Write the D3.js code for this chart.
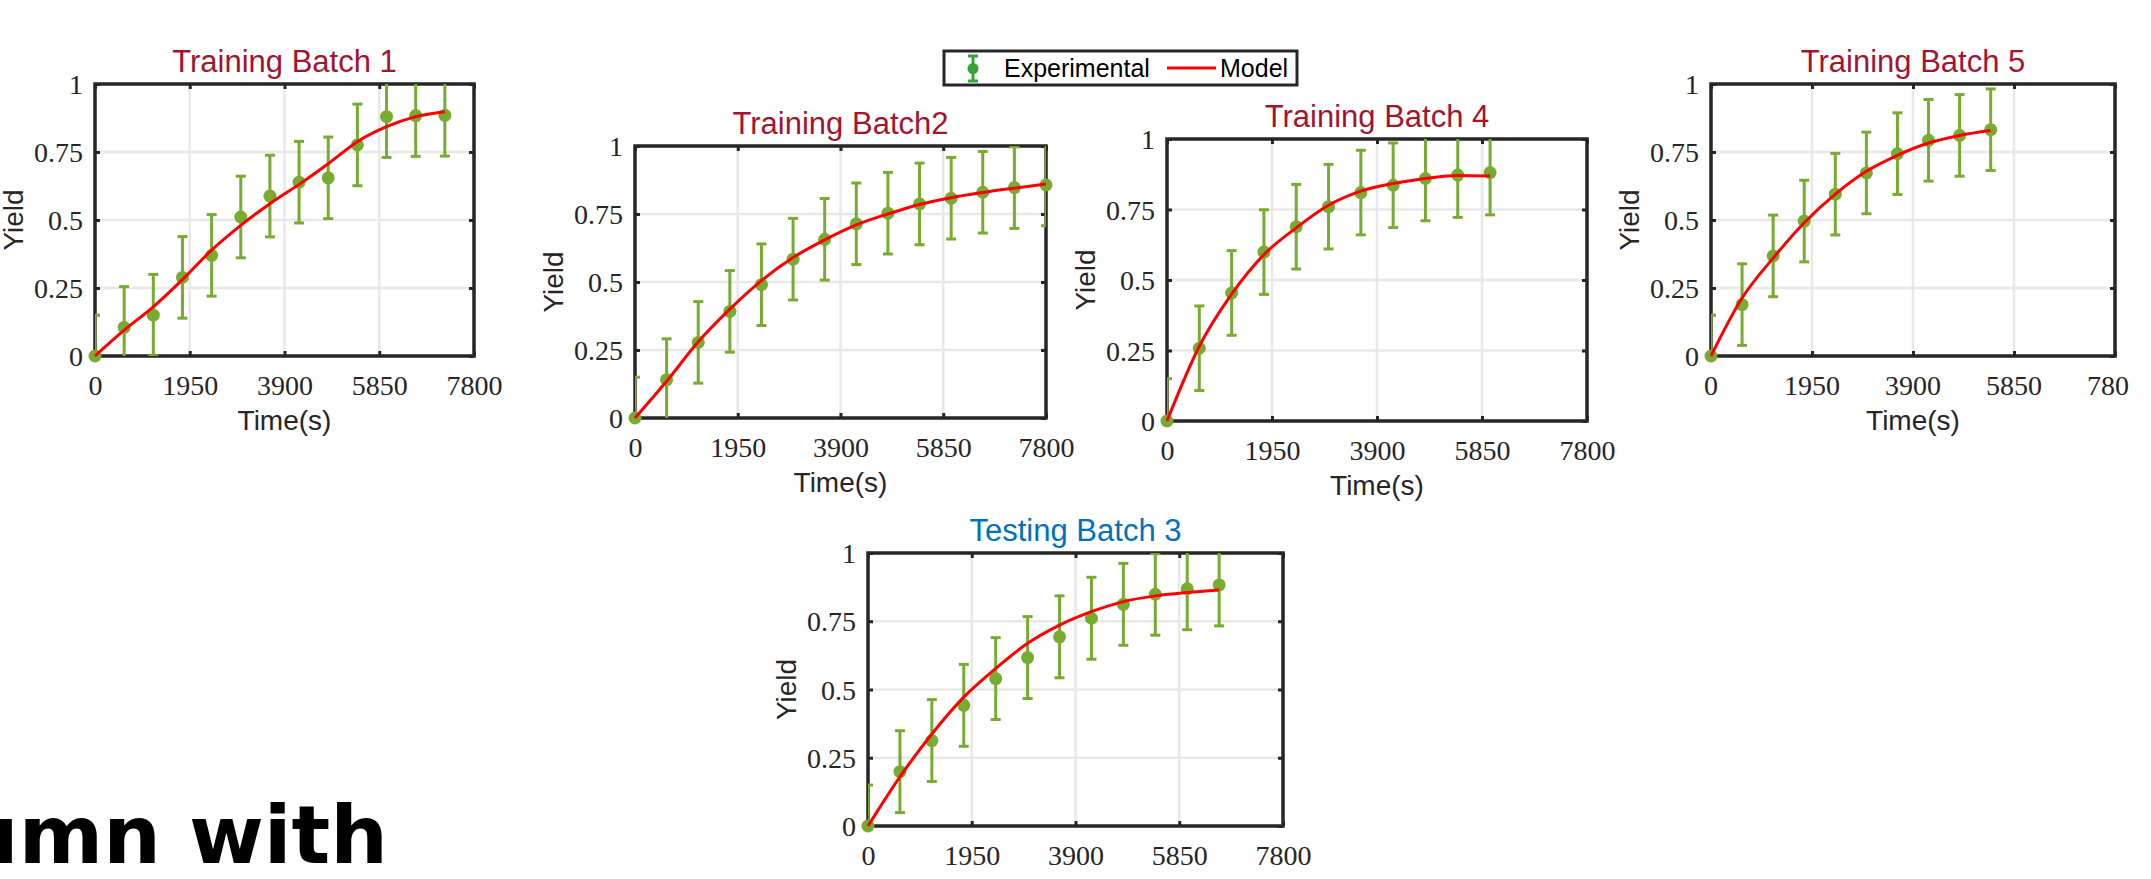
<!DOCTYPE html>
<html>
<head>
<meta charset="utf-8">
<script src="https://cdn.jsdelivr.net/npm/d3@7/dist/d3.min.js"></script>
<style>
  body { margin: 0; background: #fff; overflow: hidden; }
  svg { display: block; }
</style>
</head>
<body>
<div id="my_dataviz"></div>
<script>
var tickTimes = [0, 1950, 3900, 5850, 7800];
var tickYields = [0, 0.25, 0.5, 0.75, 1];
var expError = 0.15;

var batch1Time = [0, 600, 1200, 1800, 2400, 3000, 3600, 4200, 4800, 5400, 6000, 6600, 7200];
var batch1Exp = [0, 0.105, 0.15, 0.289, 0.37, 0.511, 0.588, 0.639, 0.655, 0.776, 0.88, 0.884, 0.885];
var batch1Model = [0, 0.095, 0.181, 0.281, 0.389, 0.48, 0.56, 0.631, 0.707, 0.788, 0.843, 0.88, 0.898];

var batch2Time = [0, 600, 1200, 1800, 2400, 3000, 3600, 4200, 4800, 5400, 6000, 6600, 7200, 7800];
var batch2Exp = [0, 0.141, 0.278, 0.392, 0.49, 0.584, 0.657, 0.714, 0.753, 0.787, 0.808, 0.83, 0.847, 0.857];
var batch2Model = [0, 0.135, 0.28, 0.4, 0.505, 0.59, 0.655, 0.71, 0.75, 0.785, 0.81, 0.829, 0.845, 0.86];

var batch4Time = [0, 600, 1200, 1800, 2400, 3000, 3600, 4200, 4800, 5400, 6000];
var batch4Exp = [0, 0.258, 0.454, 0.599, 0.689, 0.76, 0.81, 0.836, 0.86, 0.872, 0.881];
var batch4Model = [0, 0.265, 0.45, 0.59, 0.685, 0.765, 0.815, 0.842, 0.86, 0.871, 0.869];

var batch5Time = [0, 600, 1200, 1800, 2400, 3000, 3600, 4200, 4800, 5400];
var batch5Exp = [0, 0.189, 0.368, 0.496, 0.595, 0.673, 0.744, 0.793, 0.811, 0.832];
var batch5Model = [0, 0.213, 0.36, 0.49, 0.595, 0.679, 0.738, 0.783, 0.811, 0.829];

var batch3Time = [0, 600, 1200, 1800, 2400, 3000, 3600, 4200, 4800, 5400, 6000, 6600];
var batch3Exp = [0, 0.199, 0.313, 0.442, 0.54, 0.617, 0.693, 0.761, 0.812, 0.849, 0.869, 0.883];
var batch3Model = [0, 0.18, 0.337, 0.472, 0.577, 0.669, 0.736, 0.785, 0.822, 0.843, 0.855, 0.865];

var trainColor = "#A2142F", testColor = "#0072BD";
var expColor = "#77AC30", modelColor = "#ff0000", axisColor = "#262626";

// panel boxes in page pixels (batch 5 was cropped on the right in the original)
var panels = [
  { title: "Training Batch 1", color: trainColor, time: batch1Time, exp: batch1Exp, model: batch1Model, left: 95, right: 474, top: 84, bottom: 356 },
  { title: "Training Batch2", color: trainColor, time: batch2Time, exp: batch2Exp, model: batch2Model, left: 635, right: 1046, top: 146, bottom: 418 },
  { title: "Training Batch 4", color: trainColor, time: batch4Time, exp: batch4Exp, model: batch4Model, left: 1167, right: 1587, top: 139, bottom: 421 },
  { title: "Training Batch 5", color: trainColor, time: batch5Time, exp: batch5Exp, model: batch5Model, left: 1711, right: 2115, top: 84, bottom: 356, cropAt: 2129 },
  { title: "Testing Batch 3", color: testColor, time: batch3Time, exp: batch3Exp, model: batch3Model, left: 868, right: 1283, top: 553, bottom: 826 }
];

var w = 2151, h = 879;
var svg = d3.select("#my_dataviz").append("svg").attr("width", w).attr("height", h);
var defs = svg.append("defs");

function drawPanel(p, i) {
  var x = d3.scaleLinear().domain([0, 7800]).range([p.left, p.right]);
  var y = d3.scaleLinear().domain([0, 1]).range([p.bottom, p.top]);
  var pw = p.right - p.left, ph = p.bottom - p.top;
  var g = svg.append("g");

  defs.append("clipPath").attr("id", "clip" + i)
    .append("rect").attr("x", p.left).attr("y", p.top).attr("width", pw).attr("height", ph);

  // grid
  g.selectAll(".gx").data(tickTimes.slice(1, -1)).enter().append("line")
    .attr("x1", function (d) { return x(d); }).attr("x2", function (d) { return x(d); })
    .attr("y1", p.top).attr("y2", p.bottom)
    .attr("stroke", "#e8e8e8").attr("stroke-width", 2.5);
  g.selectAll(".gy").data(tickYields.slice(1, -1)).enter().append("line")
    .attr("y1", function (d) { return y(d); }).attr("y2", function (d) { return y(d); })
    .attr("x1", p.left).attr("x2", p.right)
    .attr("stroke", "#e8e8e8").attr("stroke-width", 2.5);

  // axes, ticks pointing inward
  var fmt = function (d) { return d3.format("~g")(d); };
  var xb = g.append("g").attr("transform", "translate(0," + p.bottom + ")")
    .call(d3.axisBottom(x).tickValues(tickTimes).tickSize(-5).tickFormat(fmt));
  var xt = g.append("g").attr("transform", "translate(0," + p.top + ")")
    .call(d3.axisTop(x).tickValues(tickTimes).tickSize(-5).tickFormat(""));
  var yl = g.append("g").attr("transform", "translate(" + p.left + ",0)")
    .call(d3.axisLeft(y).tickValues(tickYields).tickSize(-5).tickFormat(fmt));
  var yr = g.append("g").attr("transform", "translate(" + p.right + ",0)")
    .call(d3.axisRight(y).tickValues(tickYields).tickSize(-5).tickFormat(""));
  [xb, xt, yl, yr].forEach(function (a) {
    a.select(".domain").remove();
    a.selectAll(".tick line").attr("stroke", axisColor).attr("stroke-width", 3);
  });
  xb.selectAll(".tick text")
    .attr("y", 39).attr("dy", null)
    .style("font-family", "'Liberation Serif', serif").style("font-size", "28px").attr("fill", axisColor);
  yl.selectAll(".tick text")
    .attr("x", -12).attr("dy", "0.34em")
    .style("font-family", "'Liberation Serif', serif").style("font-size", "28px").attr("fill", axisColor);

  if (p.cropAt) {
    defs.append("clipPath").attr("id", "crop" + i)
      .append("rect").attr("x", 0).attr("y", -20).attr("width", p.cropAt).attr("height", 80);
    xb.selectAll(".tick text").attr("clip-path", function () {
      return null;
    });
    xb.attr("clip-path", null);
    var wrap = g.append("g").attr("clip-path", "url(#crop" + i + ")")
      .attr("transform", "translate(0," + p.bottom + ")");
    xb.selectAll(".tick").each(function () {
      var t = d3.select(this);
      wrap.append("text")
        .attr("x", x(t.datum())).attr("y", 39)
        .attr("text-anchor", "middle")
        .style("font-family", "'Liberation Serif', serif").style("font-size", "28px")
        .attr("fill", axisColor).text(fmt(t.datum()));
      t.select("text").remove();
    });
  }

  g.append("rect")
    .attr("x", p.left).attr("y", p.top).attr("width", pw).attr("height", ph)
    .attr("fill", "none").attr("stroke", axisColor).attr("stroke-width", 3.5);

  // labels
  g.append("text")
    .attr("x", (p.left + p.right) / 2).attr("y", p.top - 12)
    .attr("text-anchor", "middle")
    .style("font-family", "'Liberation Sans', Arial, sans-serif").style("font-size", "31px")
    .attr("fill", p.color).text(p.title);
  g.append("text")
    .attr("x", (p.left + p.right) / 2).attr("y", p.bottom + 74)
    .attr("text-anchor", "middle")
    .style("font-family", "'Liberation Sans', Arial, sans-serif").style("font-size", "28px")
    .attr("fill", axisColor).text("Time(s)");
  g.append("text")
    .attr("transform", "translate(" + (p.left - 72) + "," + ((p.top + p.bottom) / 2) + ") rotate(-90)")
    .attr("text-anchor", "middle")
    .style("font-family", "'Liberation Sans', Arial, sans-serif").style("font-size", "28px")
    .attr("fill", axisColor).text("Yield");

  // experimental points with error bars
  var pts = p.time.map(function (t, k) { return { t: t, v: p.exp[k] }; });
  var bars = g.append("g").attr("clip-path", "url(#clip" + i + ")");
  bars.selectAll(".eb").data(pts).enter().append("line")
    .attr("x1", function (d) { return x(d.t); }).attr("x2", function (d) { return x(d.t); })
    .attr("y1", function (d) { return y(d.v - expError); }).attr("y2", function (d) { return y(d.v + expError); })
    .attr("stroke", expColor).attr("stroke-width", 3);
  bars.selectAll(".capTop").data(pts).enter().append("line")
    .attr("x1", function (d) { return x(d.t) - 5; }).attr("x2", function (d) { return x(d.t) + 5; })
    .attr("y1", function (d) { return y(d.v + expError); }).attr("y2", function (d) { return y(d.v + expError); })
    .attr("stroke", expColor).attr("stroke-width", 3);
  bars.selectAll(".capBot").data(pts).enter().append("line")
    .attr("x1", function (d) { return x(d.t) - 5; }).attr("x2", function (d) { return x(d.t) + 5; })
    .attr("y1", function (d) { return y(d.v - expError); }).attr("y2", function (d) { return y(d.v - expError); })
    .attr("stroke", expColor).attr("stroke-width", 3);
  g.selectAll(".dot").data(pts).enter().append("circle")
    .attr("cx", function (d) { return x(d.t); }).attr("cy", function (d) { return y(d.v); })
    .attr("r", 6.5).attr("fill", expColor);

  // model curve
  var line = d3.line()
    .x(function (d, k) { return x(p.time[k]); })
    .y(function (d) { return y(d); })
    .curve(d3.curveMonotoneX);
  g.append("path").datum(p.model)
    .attr("d", line).attr("fill", "none")
    .attr("stroke", modelColor).attr("stroke-width", 3);
}

panels.forEach(drawPanel);

// legend
var lg = svg.append("g");
lg.append("rect").attr("x", 944).attr("y", 51).attr("width", 353).attr("height", 34)
  .attr("fill", "#fff").attr("stroke", axisColor).attr("stroke-width", 3);
var legColor = "#36a336";
lg.append("line").attr("x1", 973).attr("x2", 973).attr("y1", 56).attr("y2", 81).attr("stroke", legColor).attr("stroke-width", 3);
lg.append("line").attr("x1", 968).attr("x2", 978).attr("y1", 56).attr("y2", 56).attr("stroke", legColor).attr("stroke-width", 3);
lg.append("line").attr("x1", 968).attr("x2", 978).attr("y1", 81).attr("y2", 81).attr("stroke", legColor).attr("stroke-width", 3);
lg.append("circle").attr("cx", 973).attr("cy", 68.5).attr("r", 5.5).attr("fill", legColor);
lg.append("text").attr("x", 1004).attr("y", 77)
  .style("font-family", "'Liberation Sans', Arial, sans-serif").style("font-size", "25px")
  .attr("fill", "#000").text("Experimental");
lg.append("line").attr("x1", 1167).attr("x2", 1216).attr("y1", 68).attr("y2", 68)
  .attr("stroke", modelColor).attr("stroke-width", 3);
lg.append("text").attr("x", 1220).attr("y", 77)
  .style("font-family", "'Liberation Sans', Arial, sans-serif").style("font-size", "25px")
  .attr("fill", "#000").text("Model");

// stray text fragment at bottom left
svg.append("text").attr("x", 388).attr("y", 863).attr("text-anchor", "end")
  .style("font-family", "'DejaVu Sans', sans-serif").style("font-weight", "bold").style("font-size", "81px")
  .attr("fill", "#000").text("umn with");
</script>
</body>
</html>
